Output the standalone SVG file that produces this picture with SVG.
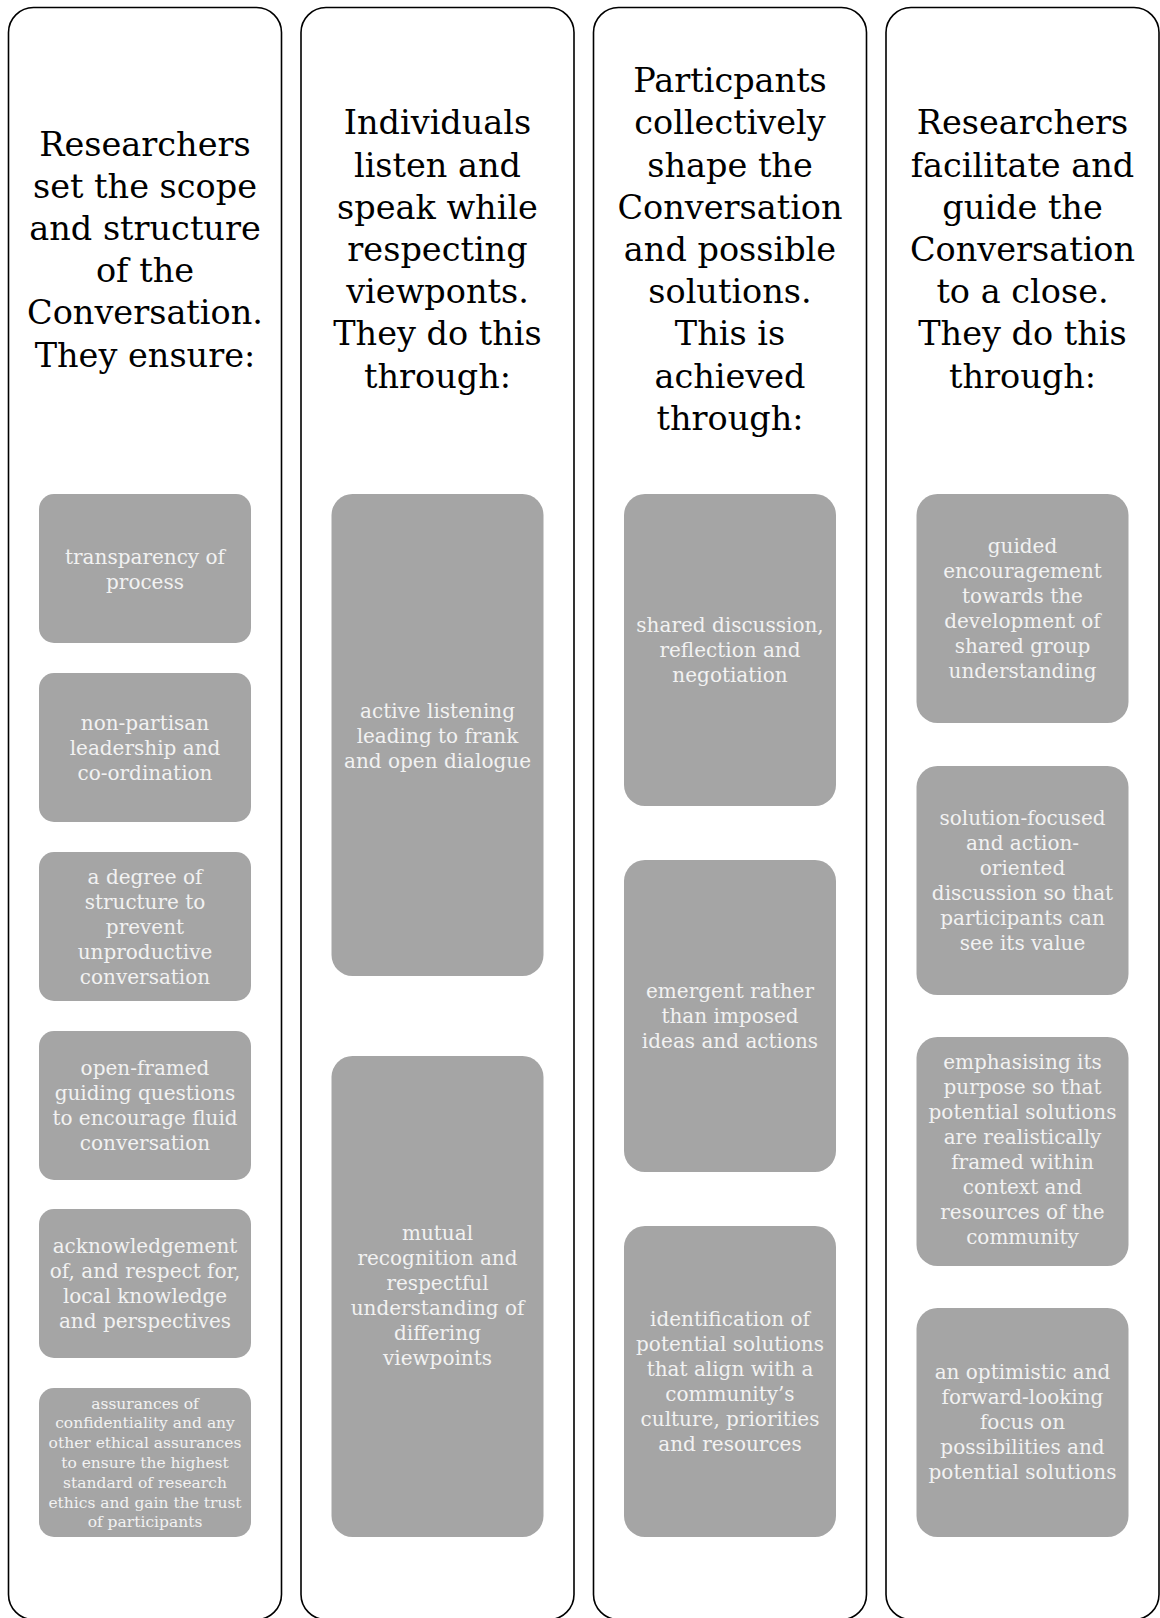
<svg xmlns="http://www.w3.org/2000/svg" width="1160" height="1618" viewBox="0 0 1160 1618">
<style>
.frame{fill:#ffffff;stroke:#000000;stroke-width:1.6}
.box{fill:#a5a5a5}
.hd{font-family:"DejaVu Serif","Liberation Serif",serif;font-size:33.5px;fill:#000000;text-anchor:middle}
.bt{font-family:"DejaVu Serif","Liberation Serif",serif;font-size:20px;fill:#f2f2f2;text-anchor:middle}
.bs{font-family:"DejaVu Serif","Liberation Serif",serif;font-size:15.5px;fill:#f2f2f2;text-anchor:middle}
</style>
<rect width="1160" height="1618" fill="#ffffff"/>
<g id="connectors"></g>

<g id="col1">
<rect class="frame" x="8.5" y="7.5" width="273" height="1612" rx="25"/>
<text class="hd" x="145"><tspan x="145" y="155.5">Researchers</tspan><tspan x="145" y="197.7">set the scope</tspan><tspan x="145" y="239.9">and structure</tspan><tspan x="145" y="282.1">of the</tspan><tspan x="145" y="324.3">Conversation.</tspan><tspan x="145" y="366.5">They ensure:</tspan></text>
</g>
<g id="c1b1"><rect class="box" x="39" y="494" width="212" height="149" rx="15"/>
<text class="bt"><tspan x="145" y="563.5">transparency of</tspan><tspan x="145" y="588.5">process</tspan></text></g>
<g id="c1b2"><rect class="box" x="39" y="673" width="212" height="149" rx="15"/>
<text class="bt"><tspan x="145" y="730">non-partisan</tspan><tspan x="145" y="755">leadership and</tspan><tspan x="145" y="780">co-ordination</tspan></text></g>
<g id="c1b3"><rect class="box" x="39" y="852" width="212" height="149" rx="15"/>
<text class="bt"><tspan x="145" y="883.5">a degree of</tspan><tspan x="145" y="908.5">structure to</tspan><tspan x="145" y="933.5">prevent</tspan><tspan x="145" y="958.5">unproductive</tspan><tspan x="145" y="983.5">conversation</tspan></text></g>
<g id="c1b4"><rect class="box" x="39" y="1031" width="212" height="149" rx="15"/>
<text class="bt"><tspan x="145" y="1075">open-framed</tspan><tspan x="145" y="1100">guiding questions</tspan><tspan x="145" y="1125">to encourage fluid</tspan><tspan x="145" y="1150">conversation</tspan></text></g>
<g id="c1b5"><rect class="box" x="39" y="1209" width="212" height="149" rx="15"/>
<text class="bt"><tspan x="145" y="1253">acknowledgement</tspan><tspan x="145" y="1278">of, and respect for,</tspan><tspan x="145" y="1303">local knowledge</tspan><tspan x="145" y="1328">and perspectives</tspan></text></g>
<g id="c1b6"><rect class="box" x="39" y="1388" width="212" height="149" rx="15"/>
<text class="bs"><tspan x="145" y="1408.6">assurances of</tspan><tspan x="145" y="1428.4">confidentiality and any</tspan><tspan x="145" y="1448.2">other ethical assurances</tspan><tspan x="145" y="1468">to ensure the highest</tspan><tspan x="145" y="1487.8">standard of research</tspan><tspan x="145" y="1507.6">ethics and gain the trust</tspan><tspan x="145" y="1527.4">of participants</tspan></text></g>

<g id="col2">
<rect class="frame" x="301" y="7.5" width="273" height="1612" rx="25"/>
<text class="hd"><tspan x="437.5" y="134.4">Individuals</tspan><tspan x="437.5" y="176.6">listen and</tspan><tspan x="437.5" y="218.8">speak while</tspan><tspan x="437.5" y="261">respecting</tspan><tspan x="437.5" y="303.2">viewponts.</tspan><tspan x="437.5" y="345.4">They do this</tspan><tspan x="437.5" y="387.6">through:</tspan></text>
</g>
<g id="c2b1"><rect class="box" x="331.5" y="494" width="212" height="482" rx="21"/>
<text class="bt"><tspan x="437.5" y="717.5">active listening</tspan><tspan x="437.5" y="742.5">leading to frank</tspan><tspan x="437.5" y="767.5">and open dialogue</tspan></text></g>
<g id="c2b2"><rect class="box" x="331.5" y="1056" width="212" height="481" rx="21"/>
<text class="bt"><tspan x="437.5" y="1240">mutual</tspan><tspan x="437.5" y="1265">recognition and</tspan><tspan x="437.5" y="1290">respectful</tspan><tspan x="437.5" y="1315">understanding of</tspan><tspan x="437.5" y="1340">differing</tspan><tspan x="437.5" y="1365">viewpoints</tspan></text></g>

<g id="col3">
<rect class="frame" x="593.5" y="7.5" width="273" height="1612" rx="25"/>
<text class="hd"><tspan x="730" y="92.2">Particpants</tspan><tspan x="730" y="134.4">collectively</tspan><tspan x="730" y="176.6">shape the</tspan><tspan x="730" y="218.8">Conversation</tspan><tspan x="730" y="261">and possible</tspan><tspan x="730" y="303.2">solutions.</tspan><tspan x="730" y="345.4">This is</tspan><tspan x="730" y="387.6">achieved</tspan><tspan x="730" y="429.8">through:</tspan></text>
</g>
<g id="c3b1"><rect class="box" x="624" y="494" width="212" height="312" rx="21"/>
<text class="bt"><tspan x="730" y="632">shared discussion,</tspan><tspan x="730" y="657">reflection and</tspan><tspan x="730" y="682">negotiation</tspan></text></g>
<g id="c3b2"><rect class="box" x="624" y="860" width="212" height="312" rx="21"/>
<text class="bt"><tspan x="730" y="998">emergent rather</tspan><tspan x="730" y="1023">than imposed</tspan><tspan x="730" y="1048">ideas and actions</tspan></text></g>
<g id="c3b3"><rect class="box" x="624" y="1226" width="212" height="311" rx="21"/>
<text class="bt"><tspan x="730" y="1326">identification of</tspan><tspan x="730" y="1351">potential solutions</tspan><tspan x="730" y="1376">that align with a</tspan><tspan x="730" y="1401">community’s</tspan><tspan x="730" y="1426">culture, priorities</tspan><tspan x="730" y="1451">and resources</tspan></text></g>

<g id="col4">
<rect class="frame" x="886" y="7.5" width="273" height="1612" rx="25"/>
<text class="hd"><tspan x="1022.5" y="134.4">Researchers</tspan><tspan x="1022.5" y="176.6">facilitate and</tspan><tspan x="1022.5" y="218.8">guide the</tspan><tspan x="1022.5" y="261">Conversation</tspan><tspan x="1022.5" y="303.2">to a close.</tspan><tspan x="1022.5" y="345.4">They do this</tspan><tspan x="1022.5" y="387.6">through:</tspan></text>
</g>
<g id="c4b1"><rect class="box" x="916.5" y="494" width="212" height="229" rx="21"/>
<text class="bt"><tspan x="1022.5" y="553">guided</tspan><tspan x="1022.5" y="578">encouragement</tspan><tspan x="1022.5" y="603">towards the</tspan><tspan x="1022.5" y="628">development of</tspan><tspan x="1022.5" y="653">shared group</tspan><tspan x="1022.5" y="678">understanding</tspan></text></g>
<g id="c4b2"><rect class="box" x="916.5" y="766" width="212" height="229" rx="21"/>
<text class="bt"><tspan x="1022.5" y="824.5">solution-focused</tspan><tspan x="1022.5" y="849.5">and action-</tspan><tspan x="1022.5" y="874.5">oriented</tspan><tspan x="1022.5" y="899.5">discussion so that</tspan><tspan x="1022.5" y="924.5">participants can</tspan><tspan x="1022.5" y="949.5">see its value</tspan></text></g>
<g id="c4b3"><rect class="box" x="916.5" y="1037" width="212" height="229" rx="21"/>
<text class="bt"><tspan x="1022.5" y="1069">emphasising its</tspan><tspan x="1022.5" y="1094">purpose so that</tspan><tspan x="1022.5" y="1119">potential solutions</tspan><tspan x="1022.5" y="1144">are realistically</tspan><tspan x="1022.5" y="1169">framed within</tspan><tspan x="1022.5" y="1194">context and</tspan><tspan x="1022.5" y="1219">resources of the</tspan><tspan x="1022.5" y="1244">community</tspan></text></g>
<g id="c4b4"><rect class="box" x="916.5" y="1308" width="212" height="229" rx="21"/>
<text class="bt"><tspan x="1022.5" y="1379">an optimistic and</tspan><tspan x="1022.5" y="1404">forward-looking</tspan><tspan x="1022.5" y="1429">focus on</tspan><tspan x="1022.5" y="1454">possibilities and</tspan><tspan x="1022.5" y="1479">potential solutions</tspan></text></g>
</svg>
